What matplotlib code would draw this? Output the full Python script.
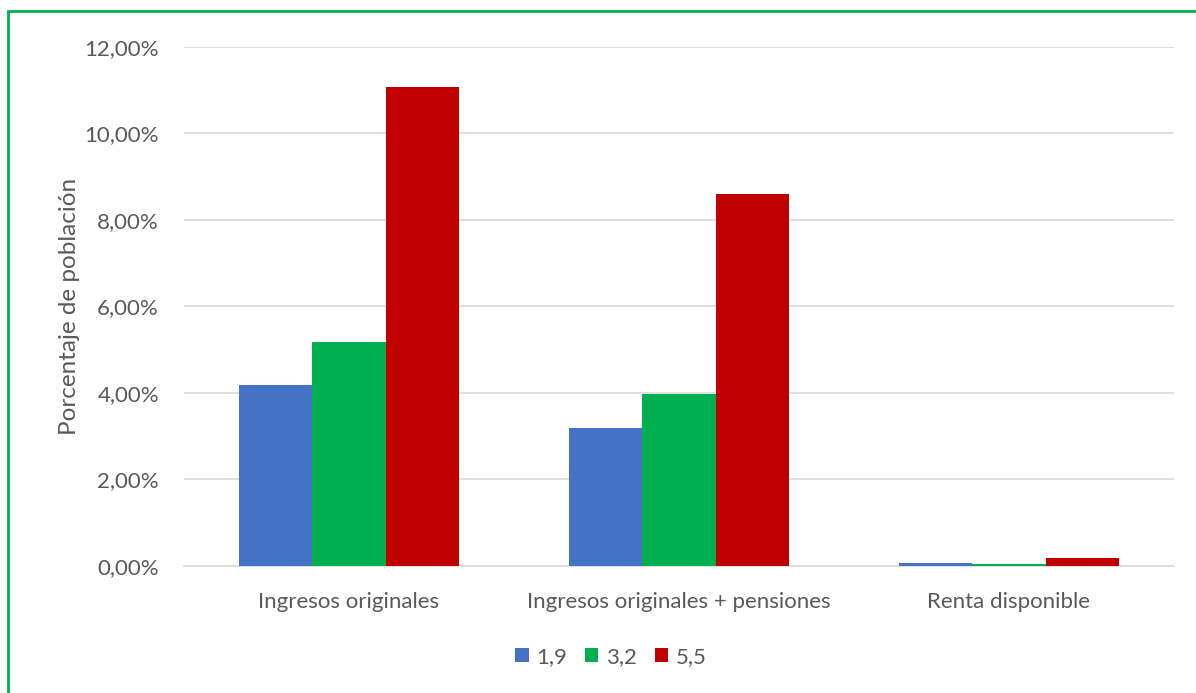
"""Porcentaje de población bajo umbrales de pobreza."""

import matplotlib

matplotlib.use("Agg")
import matplotlib.pyplot as plt
import numpy as np
from matplotlib.patches import Rectangle
from matplotlib.ticker import FuncFormatter

categories = ["Ingresos originales", "Ingresos originales + pensiones", "Renta disponible"]
series_names = ["1,9", "3,2", "5,5"]
values_19 = [0.0418, 0.0319, 0.0007]
values_32 = [0.0518, 0.0398, 0.0005]
values_55 = [0.1107, 0.0860, 0.0019]
colors = ["#4472C4", "#00B050", "#C00000"]

plt.rcParams["font.family"] = ["Lato", "DejaVu Sans"]

fig = plt.figure(figsize=(11.96, 6.93), dpi=100)
ax = fig.add_axes([0.1538, 0.1833, 0.8278, 0.7489])

x = np.arange(len(categories))
width = 0.223
for i, (vals, name, col) in enumerate(zip([values_19, values_32, values_55], series_names, colors)):
    ax.bar(x + (i - 1) * width, vals, width, color=col, label=name, zorder=3)

ax.set_xlim(-0.5, len(categories) - 0.5)
ax.set_ylim(0, 0.12)
ax.set_yticks(np.arange(0, 0.121, 0.02))
ax.yaxis.set_major_formatter(FuncFormatter(lambda v, _: f"{v * 100:.2f}%".replace(".", ",")))
ax.set_xticks(x)
ax.set_xticklabels(categories)
ax.tick_params(axis="both", length=0, labelsize=16, labelcolor="#595959")
ax.tick_params(axis="x", pad=19)
ax.tick_params(axis="y", pad=18)
ax.grid(axis="y", color="#D9D9D9", linewidth=1.2, zorder=0)
for side in ["top", "right", "left"]:
    ax.spines[side].set_visible(False)
ax.spines["bottom"].set_color("#D9D9D9")
ax.spines["bottom"].set_linewidth(1.2)

ax.set_ylabel("Porcentaje de población", fontsize=17.5, color="#595959", labelpad=3)

fig.legend(
    loc="center",
    bbox_to_anchor=(0.511, 0.052),
    ncol=3,
    frameon=False,
    fontsize=16,
    labelcolor="#595959",
    handlelength=0.6,
    handleheight=0.6,
    handletextpad=0.35,
    columnspacing=0.8,
)

# green frame around the chart area
fig.patches.append(
    Rectangle((8 / 1196, -0.05), 1.2, (693 - 11) / 693 + 0.05, transform=fig.transFigure,
              fill=False, edgecolor="#00B050", linewidth=2)
)

fig.savefig("out.png", dpi=100)
plt.close(fig)
